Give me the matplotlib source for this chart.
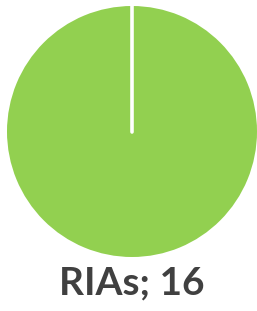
import matplotlib
matplotlib.use("Agg")
import matplotlib.pyplot as plt
import numpy as np

categories = ["RIAs"]
values = [16]
colors = ["#92D050"]

fig = plt.figure(figsize=(2.57, 3.11), dpi=100)
ax = fig.add_axes([7/257, (311-257)/311, 250/257, 251/311])
wedges, _ = ax.pie(values, colors=colors, startangle=90, counterclock=False,
                   wedgeprops=dict(linewidth=0))
# slice boundary line from center to the start angle
for w in wedges:
    cx, cy = w.center
    ang = np.deg2rad(w.theta2)
    ax.plot([cx, cx + w.r * np.cos(ang)], [cy, cy + w.r * np.sin(ang)],
            color="white", linewidth=2.6, solid_capstyle="round")
ax.set_xlim(-1.0, 1.0)
ax.set_ylim(-1.0, 1.0)
ax.set_aspect("auto")
ax.axis("off")

label = f"{categories[0]}; {values[0]}"
fig.text(132/257, 1 - 283/311, label, ha="center", va="center",
         fontsize=28, fontweight="bold", color="#404040", family="Lato")

fig.savefig("out.png", dpi=100)
